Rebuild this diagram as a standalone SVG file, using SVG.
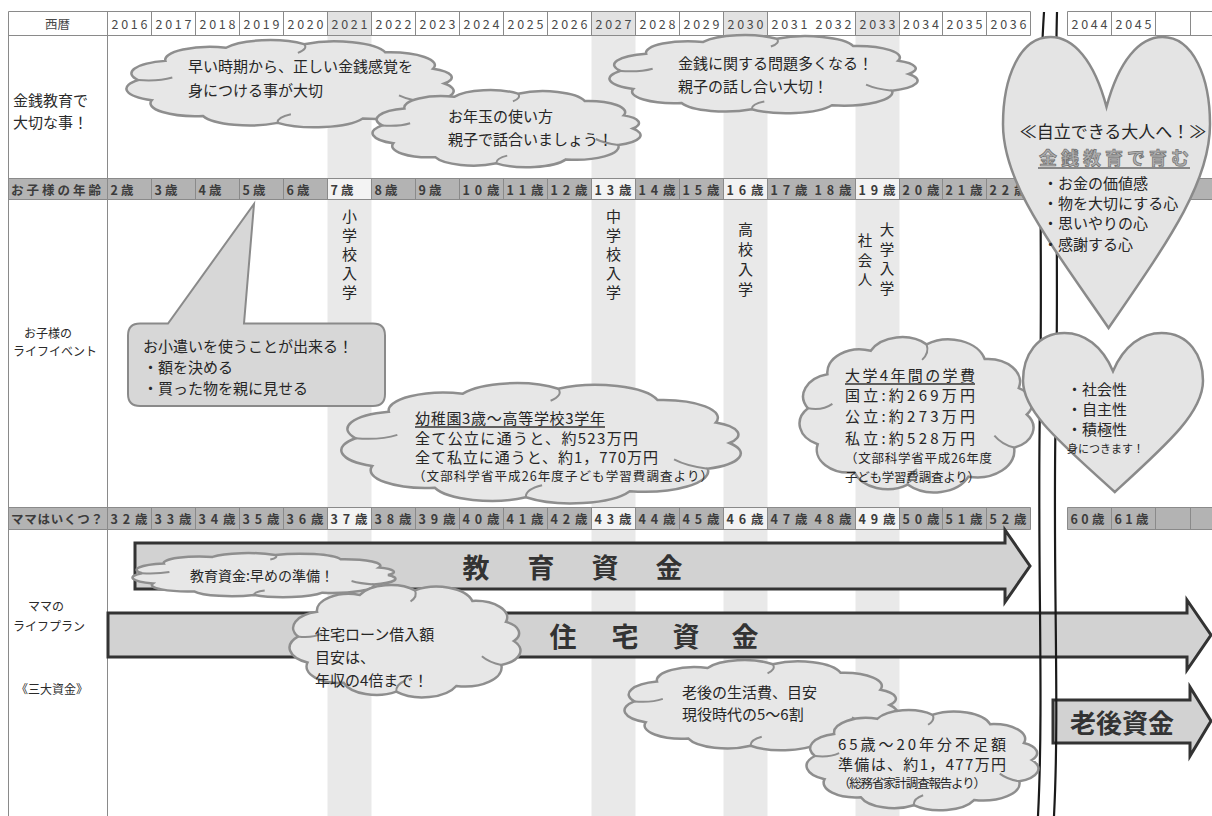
<svg xmlns="http://www.w3.org/2000/svg" width="1212" height="816" viewBox="0 0 1212 816">
<style>
.f{font-family:"Noto Sans CJK JP","Noto Sans",sans-serif;dominant-baseline:central}
.yr{font-size:12.5px;fill:#4a4a4a}
.age{font-size:12.5px;fill:#3c3c3c;font-weight:700}
.lbl{font-size:15px;fill:#2a2a2a}
.sm{font-size:12px;fill:#2a2a2a}
.ct{font-size:15px;fill:#262626}
.cs{font-size:12.5px;fill:#262626}
.vt{font-size:15px;fill:#262626}
.big{font-size:27px;font-weight:700;fill:#333}
.grid{stroke:#8a8a8a;stroke-width:1;fill:none}
.cl{fill:#e7e7e7;stroke:#8e8e8e;stroke-width:2.5;vector-effect:non-scaling-stroke}
.inner{fill:none;stroke:#8e8e8e;stroke-width:2;vector-effect:non-scaling-stroke}
.heart{fill:#e4e4e4;stroke:#8a8a8a;stroke-width:2.5;vector-effect:non-scaling-stroke}
.arrow{fill:#d2d2d2;stroke:#333;stroke-width:3}
.band{fill:#e9e9e9}
.rowfill{fill:#b3b3b3}
.hl{fill:#f3f3f3}
.ul{stroke:#333;stroke-width:1.3}
.wall{fill:none;stroke:#1a1a1a;stroke-width:2.2}
</style>
<defs>
<g id="cloud">
<path class="cl" d="M94,50 A12,12 0 0 1 88.9,68.8 A15,15 0 0 1 70.6,85.3 A15,15 0 0 1 46.2,89.8 A14,14 0 0 1 24.8,82.8 A13,13 0 0 1 10.1,66.9 A13,13 0 0 1 6.2,46.5 A13,13 0 0 1 14,27.1 A13,13 0 0 1 31.4,13.8 A14,14 0 0 1 53.8,10.2 A15,15 0 0 1 77.1,18.5 A13,13 0 0 1 90.8,35 A10,10 0 0 1 94,50 Z"/>
<path class="inner" d="M6.2,46.5 Q12,48 16,44 M46.2,89.8 Q46,84 50,81 M53.8,10.2 Q55,15 52,19 M88.9,68.8 Q84,67 81,62"/>
</g>
<path id="heart" class="heart" d="M50,24 C56,8 66,0 77,0 C92,0 100,14 100,30 C100,50 80,70 51,100 C22,70 0,50 0,30 C0,14 8,0 23,0 C34,0 44,8 50,24 Z"/>
</defs>
<rect width="1212" height="816" fill="#fff"/>
<g id="table">
<rect class="band" x="327.5" y="35.5" width="44" height="781"/>
<rect class="band" x="591.5" y="35.5" width="44" height="781"/>
<rect class="band" x="723.5" y="35.5" width="44" height="781"/>
<rect class="band" x="855.5" y="35.5" width="44" height="781"/>
<g fill="#e2e2e2">
<rect x="327.5" y="11.5" width="44" height="24"/>
<rect x="591.5" y="11.5" width="44" height="24"/>
<rect x="723.5" y="11.5" width="44" height="24"/>
<rect x="855.5" y="11.5" width="44" height="24"/>
</g>
<rect class="rowfill" x="8.5" y="178.5" width="1022" height="21"/>
<rect class="rowfill" x="1067.5" y="178.5" width="145" height="21"/>
<rect class="rowfill" x="8.5" y="507.5" width="1022" height="22"/>
<rect class="rowfill" x="1067.5" y="507.5" width="145" height="22"/>
<g class="hl">
<rect x="327.5" y="178.5" width="44" height="21"/>
<rect x="591.5" y="178.5" width="44" height="21"/>
<rect x="723.5" y="178.5" width="44" height="21"/>
<rect x="855.5" y="178.5" width="44" height="21"/>
<rect x="327.5" y="507.5" width="44" height="22"/>
<rect x="591.5" y="507.5" width="44" height="22"/>
<rect x="723.5" y="507.5" width="44" height="22"/>
<rect x="855.5" y="507.5" width="44" height="22"/>
</g>
<path class="grid" d="M8.5,11.5H1030.5M8.5,35.5H1030.5M8.5,178.5H1030.5M8.5,199.5H1030.5M8.5,507.5H1030.5M8.5,529.5H1030.5
M1067.5,11.5H1212M1067.5,35.5H1212M1067.5,178.5H1212M1067.5,199.5H1212M1067.5,507.5H1212M1067.5,529.5H1212
M8.5,11.5V816M107.5,11.5V816"/>
<path class="grid" d="M151.5,11.5V35.5M195.5,11.5V35.5M239.5,11.5V35.5M283.5,11.5V35.5M327.5,11.5V35.5M371.5,11.5V35.5M415.5,11.5V35.5M459.5,11.5V35.5M503.5,11.5V35.5M547.5,11.5V35.5M591.5,11.5V35.5M635.5,11.5V35.5M679.5,11.5V35.5M723.5,11.5V35.5M767.5,11.5V35.5M855.5,11.5V35.5M899.5,11.5V35.5M942.5,11.5V35.5M986.5,11.5V35.5M1030.5,11.5V35.5M1067.5,11.5V35.5M1111.5,11.5V35.5M1155.5,11.5V35.5M1190.5,11.5V35.5"/>
<path class="grid" d="M151.5,178.5V199.5M195.5,178.5V199.5M239.5,178.5V199.5M283.5,178.5V199.5M327.5,178.5V199.5M371.5,178.5V199.5M415.5,178.5V199.5M459.5,178.5V199.5M503.5,178.5V199.5M547.5,178.5V199.5M591.5,178.5V199.5M635.5,178.5V199.5M679.5,178.5V199.5M723.5,178.5V199.5M767.5,178.5V199.5M855.5,178.5V199.5M899.5,178.5V199.5M942.5,178.5V199.5M986.5,178.5V199.5M1030.5,178.5V199.5M1067.5,178.5V199.5"/>
<path class="grid" d="M151.5,507.5V529.5M195.5,507.5V529.5M239.5,507.5V529.5M283.5,507.5V529.5M327.5,507.5V529.5M371.5,507.5V529.5M415.5,507.5V529.5M459.5,507.5V529.5M503.5,507.5V529.5M547.5,507.5V529.5M591.5,507.5V529.5M635.5,507.5V529.5M679.5,507.5V529.5M723.5,507.5V529.5M767.5,507.5V529.5M855.5,507.5V529.5M899.5,507.5V529.5M942.5,507.5V529.5M986.5,507.5V529.5M1030.5,507.5V529.5M1067.5,507.5V529.5M1111.5,507.5V529.5M1155.5,507.5V529.5M1190.5,507.5V529.5"/>
<g class="f yr" text-anchor="middle">
<text x="57.5" y="23.5">西暦</text>
<text x="129.5" y="23.5" textLength="36">2016</text>
<text x="173.5" y="23.5" textLength="36">2017</text>
<text x="217.5" y="23.5" textLength="36">2018</text>
<text x="261.5" y="23.5" textLength="36">2019</text>
<text x="305.5" y="23.5" textLength="36">2020</text>
<text x="349.5" y="23.5" textLength="36">2021</text>
<text x="393.5" y="23.5" textLength="36">2022</text>
<text x="437.5" y="23.5" textLength="36">2023</text>
<text x="481.5" y="23.5" textLength="36">2024</text>
<text x="525.5" y="23.5" textLength="36">2025</text>
<text x="569.5" y="23.5" textLength="36">2026</text>
<text x="613.5" y="23.5" textLength="36">2027</text>
<text x="657.5" y="23.5" textLength="36">2028</text>
<text x="701.5" y="23.5" textLength="36">2029</text>
<text x="745.5" y="23.5" textLength="36">2030</text>
<text x="789.5" y="23.5" textLength="36">2031</text>
<text x="833.5" y="23.5" textLength="36">2032</text>
<text x="877.5" y="23.5" textLength="36">2033</text>
<text x="921" y="23.5" textLength="36">2034</text>
<text x="964.5" y="23.5" textLength="36">2035</text>
<text x="1008.5" y="23.5" textLength="36">2036</text>
<text x="1089.5" y="23.5" textLength="36">2044</text>
<text x="1133.5" y="23.5" textLength="36">2045</text>
</g>
<g class="f age">
<text x="11" y="189" textLength="90">お子様の年齢</text>
<text x="110.5" y="189" textLength="23">2歳</text>
<text x="154.5" y="189" textLength="23">3歳</text>
<text x="198.5" y="189" textLength="23">4歳</text>
<text x="242.5" y="189" textLength="23">5歳</text>
<text x="286.5" y="189" textLength="23">6歳</text>
<text x="330.5" y="189" textLength="23">7歳</text>
<text x="374.5" y="189" textLength="23">8歳</text>
<text x="418.5" y="189" textLength="23">9歳</text>
<text x="462.5" y="189" textLength="37">10歳</text>
<text x="506.5" y="189" textLength="37">11歳</text>
<text x="550.5" y="189" textLength="37">12歳</text>
<text x="594.5" y="189" textLength="37">13歳</text>
<text x="638.5" y="189" textLength="37">14歳</text>
<text x="682.5" y="189" textLength="37">15歳</text>
<text x="726.5" y="189" textLength="37">16歳</text>
<text x="770.5" y="189" textLength="37">17歳</text>
<text x="814.5" y="189" textLength="37">18歳</text>
<text x="858.5" y="189" textLength="37">19歳</text>
<text x="902.5" y="189" textLength="37">20歳</text>
<text x="945.5" y="189" textLength="37">21歳</text>
<text x="989.5" y="189" textLength="37">22歳</text>
<text x="11" y="518.5" textLength="92">ママはいくつ？</text>
<text x="110.5" y="518.5" textLength="37">32歳</text>
<text x="154.5" y="518.5" textLength="37">33歳</text>
<text x="198.5" y="518.5" textLength="37">34歳</text>
<text x="242.5" y="518.5" textLength="37">35歳</text>
<text x="286.5" y="518.5" textLength="37">36歳</text>
<text x="330.5" y="518.5" textLength="37">37歳</text>
<text x="374.5" y="518.5" textLength="37">38歳</text>
<text x="418.5" y="518.5" textLength="37">39歳</text>
<text x="462.5" y="518.5" textLength="37">40歳</text>
<text x="506.5" y="518.5" textLength="37">41歳</text>
<text x="550.5" y="518.5" textLength="37">42歳</text>
<text x="594.5" y="518.5" textLength="37">43歳</text>
<text x="638.5" y="518.5" textLength="37">44歳</text>
<text x="682.5" y="518.5" textLength="37">45歳</text>
<text x="726.5" y="518.5" textLength="37">46歳</text>
<text x="770.5" y="518.5" textLength="37">47歳</text>
<text x="814.5" y="518.5" textLength="37">48歳</text>
<text x="858.5" y="518.5" textLength="37">49歳</text>
<text x="902.5" y="518.5" textLength="37">50歳</text>
<text x="945.5" y="518.5" textLength="37">51歳</text>
<text x="989.5" y="518.5" textLength="37">52歳</text>
<text x="1070.5" y="518.5" textLength="34">60歳</text>
<text x="1114.5" y="518.5" textLength="34">61歳</text>
</g>
<g class="f">
<text class="lbl" x="13" y="99">金銭教育で</text>
<text class="lbl" x="13" y="121">大切な事！</text>
<text class="sm" x="24" y="332">お子様の</text>
<text class="sm" x="13" y="350">ライフイベント</text>
<text class="sm" x="28" y="605">ママの</text>
<text class="sm" x="13" y="625">ライフプラン</text>
<text class="sm" x="16" y="688">《三大資金》</text>
</g>
</g>
<g id="events" class="f vt" text-anchor="middle">
<text x="349.5" y="215"><tspan x="349.5">小</tspan><tspan x="349.5" dy="19">学</tspan><tspan x="349.5" dy="19">校</tspan><tspan x="349.5" dy="19">入</tspan><tspan x="349.5" dy="19">学</tspan></text>
<text x="613.5" y="215"><tspan x="613.5">中</tspan><tspan x="613.5" dy="19">学</tspan><tspan x="613.5" dy="19">校</tspan><tspan x="613.5" dy="19">入</tspan><tspan x="613.5" dy="19">学</tspan></text>
<text x="745.5" y="228"><tspan x="745.5">高</tspan><tspan x="745.5" dy="20">校</tspan><tspan x="745.5" dy="20">入</tspan><tspan x="745.5" dy="20">学</tspan></text>
<text x="865" y="239" font-size="14.5"><tspan x="865">社</tspan><tspan x="865" dy="19.5">会</tspan><tspan x="865" dy="19.5">人</tspan></text>
<text x="887" y="228" font-size="14.5"><tspan x="887">大</tspan><tspan x="887" dy="19.5">学</tspan><tspan x="887" dy="19.5">入</tspan><tspan x="887" dy="19.5">学</tspan></text>
</g>
<g id="spans">
<polygon class="arrow" points="135,543 1005,543 1005,530 1030,566 1005,602 1005,589 135,589"/>
<polygon class="arrow" points="108,613 1187,613 1187,600 1211,635 1187,670 1187,657 108,657"/>
<polygon class="arrow" points="1053,700 1190,700 1190,687 1211,721 1190,756 1190,743 1053,743"/>
<g class="f big" text-anchor="middle">
<text x="476" y="566">教</text><text x="541" y="566">育</text><text x="605" y="566">資</text><text x="669" y="566">金</text>
<text x="563" y="635">住</text><text x="625" y="635">宅</text><text x="686" y="635">資</text><text x="745" y="635">金</text>
<text x="1122" y="721" font-size="26">老後資金</text>
</g>
</g>
<g id="wall">
<path class="wall" d="M1044,12 C1037,120 1043,250 1040,400 C1037,560 1044,700 1038,816"/>
<path class="wall" d="M1057,12 C1054,120 1059,250 1056,400 C1052,560 1060,700 1054,816"/>
</g>
<g id="cloud-early">
<use href="#cloud" transform="translate(116.54,34.07) scale(3.487,0.989)"/>
<text class="f ct" x="188" y="65">早い時期から、正しい金銭感覚を</text>
<text class="f ct" x="188" y="89">身につける事が大切</text>
</g>
<g id="cloud-otoshidama">
<use href="#cloud" transform="translate(364.43,84.75) scale(2.856,0.875)"/>
<text class="f ct" x="448" y="115">お年玉の使い方</text>
<text class="f ct" x="448" y="138">親子で話合いましょう！</text>
</g>
<g id="cloud-problems">
<use href="#cloud" transform="translate(600.15,29.68) scale(3.283,0.886)"/>
<text class="f ct" x="678" y="62">金銭に関する問題多くなる！</text>
<text class="f ct" x="678" y="85">親子の話し合い大切！</text>
</g>
<g id="callout-allowance">
<path d="M140,323.5 H168 L254,204 L244,323.5 H373 Q385,323.5 385,335.5 V394 Q385,406 373,406 H140 Q128,406 128,394 V335.5 Q128,323.5 140,323.5 Z" fill="#d7d7d7" stroke="#8a8a8a" stroke-width="2"/>
<text class="f ct" x="143" y="345">お小遣いを使うことが出来る！</text>
<text class="f ct" x="143" y="366">・額を決める</text>
<text class="f ct" x="143" y="387">・買った物を親に見せる</text>
</g>
<g id="cloud-school">
<use href="#cloud" transform="translate(329.23,374.82) scale(4.257,1.364)"/>
<text class="f ct" x="415" y="417" textLength="190">幼稚園3歳～高等学校3学年</text>
<line class="ul" x1="415" y1="427" x2="605" y2="427"/>
<text class="f ct" x="415" y="437" textLength="223">全て公立に通うと、約523万円</text>
<text class="f ct" x="415" y="456" textLength="243">全て私立に通うと、約1，770万円</text>
<text class="f cs" x="413" y="475" textLength="300">（文部科学省平成26年度子ども学習費調査より）</text>
</g>
<g id="cloud-university">
<use href="#cloud" transform="translate(792.52,326.43) scale(2.492,1.761)"/>
<text class="f ct" x="845" y="374" textLength="130">大学4年間の学費</text>
<line class="ul" x1="845" y1="384" x2="975" y2="384"/>
<text class="f ct" x="845" y="394" textLength="130">国立:約269万円</text>
<text class="f ct" x="845" y="415" textLength="130">公立:約273万円</text>
<text class="f ct" x="845" y="437" textLength="130">私立:約528万円</text>
<text class="f cs" x="845" y="457" textLength="147">（文部科学省平成26年度</text>
<text class="f cs" x="845" y="476" textLength="135">子ども学習費調査より）</text>
</g>
<g id="heart-adult">
<use href="#heart" transform="translate(1003,37) scale(2.07,2.91)"/>
<text class="f" x="1113" y="130" text-anchor="middle" font-size="17" fill="#262626">≪自立できる大人へ！≫</text>
<text class="f" x="1114" y="157" text-anchor="middle" font-size="18" font-weight="700" fill="#b0b0b0" stroke="#6f6f6f" stroke-width="0.7" textLength="150">金銭教育で育む</text>
<line x1="1038" y1="168" x2="1190" y2="168" stroke="#888" stroke-width="2"/>
<text class="f ct" x="1043" y="182">・お金の価値感</text>
<text class="f ct" x="1043" y="202">・物を大切にする心</text>
<text class="f ct" x="1043" y="222">・思いやりの心</text>
<text class="f ct" x="1043" y="243">・感謝する心</text>
</g>
<g id="heart-social">
<use href="#heart" transform="translate(1023,333) scale(1.8,1.59)"/>
<text class="f ct" x="1067" y="388">・社会性</text>
<text class="f ct" x="1067" y="408">・自主性</text>
<text class="f ct" x="1067" y="428">・積極性</text>
<text class="f" x="1067" y="448" font-size="11" fill="#262626">身につきます！</text>
</g>
<g id="cloud-edu-fund">
<use href="#cloud" transform="translate(124.59,550) scale(2.802,0.5)"/>
<text class="f" x="190" y="575" font-size="14" fill="#262626">教育資金:早めの準備！</text>
</g>
<g id="cloud-loan">
<use href="#cloud" transform="translate(282.62,577.36) scale(2.46,1.273)"/>
<text class="f ct" x="315" y="633">住宅ローン借入額</text>
<text class="f ct" x="315" y="656">目安は、</text>
<text class="f ct" x="315" y="679">年収の4倍まで！</text>
</g>
<g id="cloud-living">
<use href="#cloud" transform="translate(616.27,653.86) scale(2.909,1.023)"/>
<text class="f ct" x="682" y="691">老後の生活費、目安</text>
<text class="f ct" x="682" y="713">現役時代の5～6割</text>
</g>
<g id="cloud-shortfall">
<use href="#cloud" transform="translate(799.59,703.18) scale(2.471,1.136)"/>
<text class="f ct" x="838" y="743" textLength="168">65歳～20年分不足額</text>
<text class="f ct" x="838" y="763" textLength="168">準備は、約1，477万円</text>
<text class="f cs" x="838" y="782" textLength="148">（総務省家計調査報告より）</text>
</g>
</svg>
